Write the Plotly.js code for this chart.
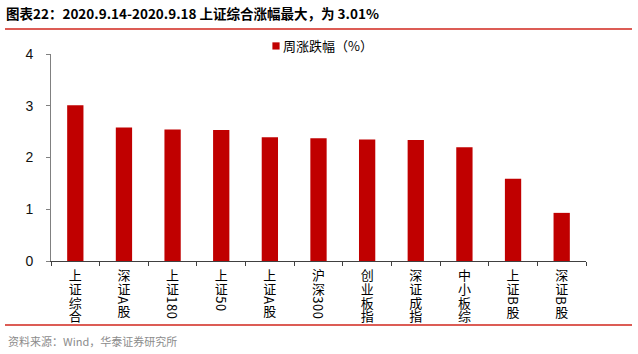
<!DOCTYPE html>
<html>
<head>
<meta charset="utf-8">
<script src="https://cdn.plot.ly/plotly-3.0.1.min.js"></script>
<style>
html,body{margin:0;padding:0;background:#fff;}
#chart{width:638px;height:354px;}
</style>
</head>
<body>
<div id="chart"></div>
<script>
const categories = ["上证综合","深证A股","上证180","上证50","上证A股","沪深300","创业板指","深证成指","中小板综","上证B股","深证B股"];
const weeklyChange = [3.01, 2.58, 2.54, 2.53, 2.39, 2.37, 2.35, 2.34, 2.20, 1.59, 0.93];
const seriesName = "周涨跌幅（%）";
const yTicks = [0, 1, 2, 3, 4];
const titleText = "图表22：2020.9.14-2020.9.18 上证综合涨幅最大，为 3.01%";
const sourceText = "资料来源：Wind，华泰证券研究所";

const W = 638, H = 354;
const L = 51, R = 52, T = 54, B = 93;
const pw = W - L - R, ph = H - T - B;
const px = x => (x - L) / pw;
const py = y => (H - B - y) / ph;

const cjk = '"Noto Sans CJK SC", "Liberation Sans", sans-serif';

const trace = {
  type: 'bar',
  x: categories,
  y: weeklyChange,
  name: seriesName,
  marker: {color: '#C00000'},
  showlegend: true,
  hoverinfo: 'x+y'
};

const layout = {
  width: W, height: H,
  margin: {l: L, r: R, t: T, b: B, pad: 0},
  paper_bgcolor: '#fff',
  plot_bgcolor: '#fff',
  bargap: 0.665,
  font: {family: cjk, color: '#000'},
  title: {
    text: '<b>' + titleText + '</b>',
    x: 6 / W, xref: 'container', xanchor: 'left',
    y: 1 - 14 / H, yref: 'container', yanchor: 'middle',
    font: {family: cjk, size: 13.5, color: '#000'}
  },
  xaxis: {
    type: 'category',
    showgrid: false,
    zeroline: false,
    showline: true,
    linecolor: '#404040',
    linewidth: 1,
    ticks: 'outside',
    ticklen: 4,
    tickcolor: '#404040',
    tickson: 'boundaries',
    tickfont: {family: cjk, size: 13, color: '#000'},
    tickangle: 0,
    automargin: false,
    fixedrange: true
  },
  yaxis: {
    range: [0, 4],
    tickvals: yTicks,
    ticktext: yTicks.map(String),
    showgrid: false,
    zeroline: false,
    showline: true,
    linecolor: '#808080',
    linewidth: 1,
    ticks: 'outside',
    ticklen: 4,
    tickcolor: '#808080',
    ticklabelstandoff: 10,
    tickfont: {family: '"Liberation Sans", Arial, sans-serif', size: 14, color: '#111'},
    automargin: false,
    fixedrange: true
  },
  legend: {
    x: px(243), xanchor: 'left',
    y: py(46), yanchor: 'middle',
    bgcolor: 'rgba(0,0,0,0)',
    font: {family: cjk, size: 13, color: '#000'},
    itemclick: false, itemdoubleclick: false
  },
  shapes: [
    {type: 'line', xref: 'paper', yref: 'paper', x0: px(5), x1: px(632), y0: py(29), y1: py(29), line: {color: '#D0261D', width: 1.5}},
    {type: 'line', xref: 'paper', yref: 'paper', x0: px(5), x1: px(632), y0: py(325), y1: py(325), line: {color: '#D0261D', width: 1.5}}
  ],
  annotations: [
    {text: sourceText, xref: 'paper', yref: 'paper', x: px(6), y: py(341), xanchor: 'left', yanchor: 'middle', showarrow: false,
     font: {family: cjk, size: 11, color: '#8c8c8c'}}
  ]
};

Plotly.newPlot('chart', [trace], layout, {displayModeBar: false, staticPlot: true}).then(function(gd){
  // vertical (stacked) category labels as in the original
  const ticks = gd.querySelectorAll('.xtick text');
  ticks.forEach(function(t){
    t.style.writingMode = 'vertical-rl';
    t.setAttribute('text-anchor', 'start');
    t.style.textAnchor = 'start';
    t.style.letterSpacing = '0.6px';
    t.setAttribute('y', 269);
  });
  // smaller legend marker placed next to the text
  const lp = gd.querySelectorAll('.legendpoints path');
  lp.forEach(function(p){
    p.setAttribute('transform', 'translate(33,0) scale(0.6)');
  });
});
</script>
</body>
</html>
